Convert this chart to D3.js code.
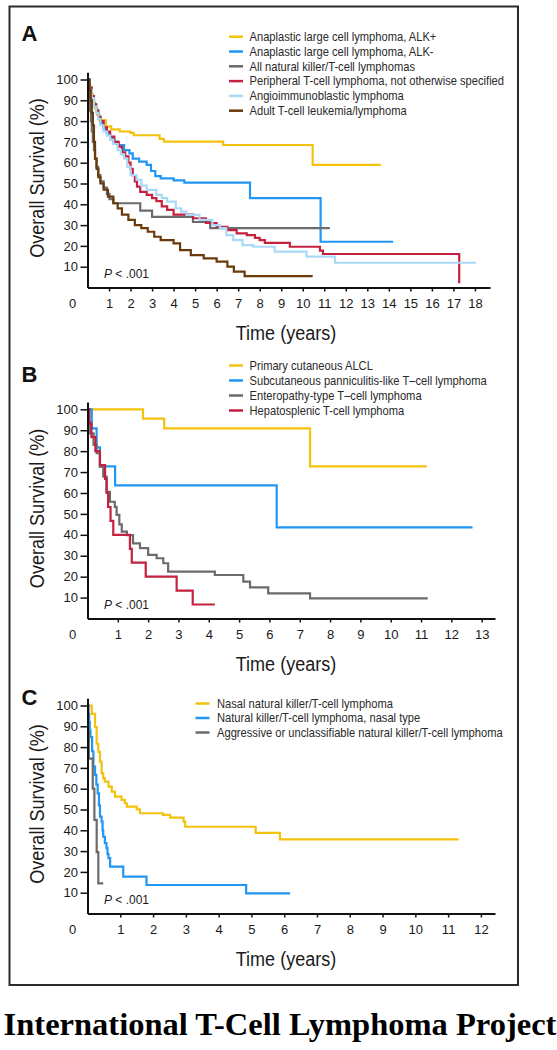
<!DOCTYPE html>
<html><head><meta charset="utf-8">
<script src="https://cdn.jsdelivr.net/npm/d3@7"></script>
<style>
body{margin:0;background:#fff;}
svg{display:block;}
</style></head><body>
<svg id="chart" width="557" height="1050"></svg>
<script>
// ---------------- DATA ----------------
// Panel A (time in years, overall survival %)
const alkPositive = [[0,100],[0.08,97],[0.16,93],[0.25,89],[0.35,86],[0.45,83],[0.55,80.5],[0.85,77.5],[1.1,76],[1.5,75],[2.0,74.3],[2.15,73.2],[3.35,71.5],[3.55,70.1],[6.3,68.5],[10.46,59],[13.63,59]];
const alkNegative = [[0,100],[0.1,96],[0.2,92],[0.3,88],[0.4,85],[0.5,82],[0.6,79],[0.75,76],[0.9,74],[1.05,72],[1.2,70],[1.4,68.5],[1.7,66],[1.95,64.5],[2.1,62],[2.4,60.5],[2.75,59],[2.95,56],[3.15,53.5],[3.4,52.5],[4.0,51.5],[4.5,50.4],[7.55,43],[10.83,22],[14.2,22]];
const allNkT = [[0,100],[0.04,95],[0.08,90],[0.12,85],[0.16,80],[0.2,75],[0.25,70],[0.3,66],[0.35,62],[0.42,58],[0.5,54],[0.6,51],[0.75,48],[0.9,45],[1.02,42.5],[1.2,40.5],[2.45,37],[3.0,34],[4.9,31.5],[5.7,28.5],[11.26,28.5]];
const ptclNos = [[0,100],[0.1,96],[0.2,92],[0.3,88],[0.4,85],[0.5,82],[0.6,80],[0.75,77],[0.9,75],[1.05,72.5],[1.25,70],[1.45,67.7],[1.6,65],[1.75,63],[1.9,60],[2.0,57],[2.1,54],[2.2,51],[2.3,48.5],[2.45,46],[2.75,44.5],[3.0,43],[3.2,41.5],[3.45,39],[3.7,37.3],[4.0,35],[4.9,33.3],[5.5,31],[6.0,29.2],[6.5,27.6],[6.93,26],[7.4,25.2],[7.78,23.9],[8.0,22.8],[8.24,21.5],[9.4,19.6],[10.8,17.7],[10.94,16.1],[17.27,2]];
const angioimmunoblastic = [[0,100],[0.1,95],[0.2,91],[0.3,87],[0.4,84],[0.5,81],[0.6,78],[0.75,75],[0.9,73],[1.05,71],[1.2,69],[1.4,66],[1.55,64],[1.7,62],[1.85,58],[2.0,54],[2.28,51.7],[2.5,49],[2.75,46.9],[3.2,44.5],[3.45,43],[3.7,41.3],[4.1,38.1],[4.35,36.5],[4.6,34.9],[5.2,32.5],[5.8,30],[6.15,28.5],[6.45,25.2],[6.77,22.8],[7.2,20.4],[7.7,19.6],[8.7,17.2],[10.18,14.8],[11.5,11.9],[18.05,11.9]];
const adultTcell = [[0,100],[0.1,95],[0.15,90],[0.2,84],[0.25,78],[0.3,70],[0.35,62],[0.42,57],[0.5,53],[0.6,50],[0.75,47],[0.95,43.7],[1.2,40.5],[1.4,38],[1.6,35],[1.9,32.5],[2.2,30],[2.5,28.5],[2.8,26.8],[3.1,24.4],[3.4,22.8],[4.0,21.2],[4.3,18],[4.8,15.6],[5.4,14],[6.0,12.4],[6.5,10],[6.8,7.6],[7.3,5.5],[10.46,5.5]];
const legendA = ["Anaplastic large cell lymphoma, ALK+","Anaplastic large cell lymphoma, ALK-","All natural killer/T-cell lymphomas","Peripheral T-cell lymphoma, not otherwise specified","Angioimmunoblastic lymphoma","Adult T-cell leukemia/lymphoma"];
const colorsA = ["#F4C20D","#2196F3","#6B6B6B","#C4213F","#A9D9F7","#6B3A0B"];

// Panel B
const primaryCutAlcl = [[0,100],[1.83,95.5],[2.53,90.9],[7.34,72.7],[11.19,72.7]];
const subcutPanniculitis = [[0,100],[0.14,90.9],[0.3,81.8],[0.41,72.7],[0.91,63.6],[6.24,43.6],[12.7,43.6]];
const enteropathy = [[0,100],[0.05,94],[0.09,88.5],[0.2,83],[0.3,79],[0.41,72.6],[0.52,67.8],[0.63,60.6],[0.74,55.8],[0.9,53.4],[0.96,49.5],[1.05,45],[1.13,41.5],[1.3,39.9],[1.5,35.9],[1.73,33.6],[2.0,30.4],[2.28,28.8],[2.5,26.4],[2.66,22.4],[4.2,20.8],[5.14,17.6],[5.36,14.9],[5.96,12],[7.34,9.6],[11.22,9.6]];
const hepatosplenic = [[0,100],[0.06,93.3],[0.13,86.7],[0.26,80],[0.41,73.3],[0.58,66.7],[0.63,60],[0.68,53.3],[0.76,46.7],[0.85,40],[1.4,33.3],[1.46,26.7],[1.92,20],[2.94,13.3],[3.47,6.7],[4.2,6.7]];
const legendB = ["Primary cutaneous ALCL","Subcutaneous panniculitis-like T\u2013cell lymphoma","Enteropathy-type T\u2013cell lymphoma","Hepatosplenic T-cell lymphoma"];
const colorsB = ["#F4C20D","#2196F3","#6B6B6B","#C4213F"];

// Panel C
const nasalNkT = [[0,100],[0.13,96],[0.23,89.6],[0.28,81.6],[0.33,77.7],[0.38,73],[0.43,67.4],[0.48,65],[0.53,63.4],[0.64,61],[0.74,58.6],[0.84,56.2],[1.04,54.6],[1.14,53],[1.2,51.4],[1.5,50.1],[1.6,48.2],[2.3,47.4],[2.52,46.1],[2.93,44.2],[2.98,41.7],[5.13,38.8],[5.87,35.6],[11.32,35.6]];
const nkTNasalType = [[0,100],[0.03,96],[0.05,92],[0.07,88],[0.09,84.8],[0.14,78],[0.18,70.6],[0.23,66.6],[0.27,62],[0.31,57.8],[0.35,52],[0.38,46.6],[0.43,44.2],[0.46,40],[0.48,36.9],[0.53,33.8],[0.58,31.4],[0.61,28.5],[0.64,26.6],[0.69,22.5],[1.09,17.7],[1.8,13.7],[4.84,9.7],[6.18,9.7]];
const aggressiveNk = [[0,100],[0.02,87],[0.04,74.5],[0.16,60],[0.21,45],[0.28,29.5],[0.33,14.5],[0.48,14.5]];
const legendC = ["Nasal natural killer/T-cell lymphoma","Natural killer/T-cell lymphoma, nasal type","Aggressive or unclassifiable natural killer/T-cell lymphoma"];
const colorsC = ["#F4C20D","#2196F3","#6B6B6B"];

// Ticks
const yTicks = [10,20,30,40,50,60,70,80,90,100];
const xTicksA = [1,2,3,4,5,6,7,8,9,10,11,12,13,14,15,16,17,18];
const xTicksB = [1,2,3,4,5,6,7,8,9,10,11,12,13];
const xTicksC = [1,2,3,4,5,6,7,8,9,10,11,12];

const yTitle = "Overall Survival (%)";
const xTitle = "Time (years)";
const pText = "< .001";
const mainTitle = "International T-Cell Lymphoma Project";

// ---------------- LAYOUT ----------------
const sans = "'Liberation Sans',Arial,sans-serif";

const panels = [
  {letter:"A", letterY:41, series:[alkPositive,alkNegative,allNkT,ptclNos,angioimmunoblastic,adultTcell],
   labels:legendA, colors:colorsA, xTicks:xTicksA, xMax:18.7, x0:87.5, x1:490,
   y100:79.5, y0:287.5, legX:229, legTextX:249.5, legY:36.7, legStep:14.8},
  {letter:"B", letterY:382, series:[primaryCutAlcl,subcutPanniculitis,enteropathy,hepatosplenic],
   labels:legendB, colors:colorsB, xTicks:xTicksB, xMax:13.44, x0:87.5, x1:495,
   y100:409.3, y0:618.5, legX:229, legTextX:249.5, legY:365.5, legStep:15},
  {letter:"C", letterY:705, series:[nasalNkT,nkTNasalType,aggressiveNk],
   labels:legendC, colors:colorsC, xTicks:xTicksC, xMax:12.43, x0:87.5, x1:495,
   y100:705.5, y0:913.5, legX:195.5, legTextX:217, legY:703.5, legStep:14.5}
];

const svg = d3.select("#chart");

// frame
svg.append("rect").attr("x",9.5).attr("y",6.5).attr("width",508.5).attr("height",978.5)
  .attr("fill","none").attr("stroke","#2b2b2b").attr("stroke-width",2);

panels.forEach(p => {
  const g = svg.append("g");
  const x = d3.scaleLinear().domain([0,p.xMax]).range([p.x0,p.x1]);
  const perUnit = (p.y0 - p.y100)/100;
  const y = d3.scaleLinear().domain([0,103.5]).range([p.y0, p.y0 - 103.5*perUnit]);

  const line = d3.line().x(d=>x(d[0])).y(d=>y(d[1])).curve(d3.curveStepAfter);
  p.series.forEach((s,i) => {
    g.append("path").datum(s).attr("d",line).attr("fill","none")
      .attr("stroke",p.colors[i]).attr("stroke-width",2.2);
  });

  const ya = d3.axisLeft(y).tickValues(yTicks).tickSize(7).tickSizeOuter(0).tickPadding(2.5);
  const yg = g.append("g").attr("transform",`translate(${p.x0},0)`).call(ya);
  const xa = d3.axisBottom(x).tickValues(p.xTicks).tickSize(4).tickSizeOuter(0).tickPadding(7.5);
  const xg = g.append("g").attr("transform",`translate(0,${p.y0})`).call(xa);
  [yg,xg].forEach(ax => {
    ax.select(".domain").attr("stroke","#111").attr("stroke-width",2);
    ax.selectAll(".tick line").attr("stroke","#111").attr("stroke-width",1.5);
    ax.selectAll(".tick text").attr("fill","#1a1a1a").style("font-family",sans).style("font-size","13px");
  });

  g.append("text").attr("x",p.x0-15).attr("y",p.y0+16).attr("dy","0.35em")
    .attr("text-anchor","middle").style("font-family",sans).style("font-size","13px")
    .attr("fill","#1a1a1a").text("0");

  const pt = g.append("text").attr("x",104).attr("y",p.y0-14).attr("dy","0.35em")
    .style("font-family",sans).style("font-size","12px").attr("fill","#1a1a1a");
  pt.append("tspan").style("font-style","italic").text("P");
  pt.append("tspan").text(" " + pText);

  // axis titles (horizontally condensed)
  g.append("text").attr("transform",`translate(286,${p.y0+52}) scale(0.86,1)`).attr("text-anchor","middle")
    .style("font-family",sans).style("font-size","21px").attr("fill","#1a1a1a").text(xTitle);
  const cy = (p.y0 + p.y100)/2 - 5.5;
  g.append("text").attr("transform",`translate(37,${cy}) rotate(-90) scale(0.86,1)`).attr("dy","0.35em")
    .attr("text-anchor","middle").style("font-family",sans).style("font-size","21px")
    .attr("fill","#1a1a1a").text(yTitle);

  g.append("text").attr("x",21.5).attr("y",p.letterY).style("font-family",sans)
    .style("font-weight","bold").style("font-size","22px").attr("fill","#111").text(p.letter);

  p.labels.forEach((lab,i) => {
    const ly = p.legY + i*p.legStep;
    g.append("line").attr("x1",p.legX).attr("x2",p.legX+14).attr("y1",ly).attr("y2",ly)
      .attr("stroke",p.colors[i]).attr("stroke-width",2.5);
    g.append("text").attr("transform",`translate(${p.legTextX},${ly}) scale(0.93,1)`).attr("dy","0.35em")
      .style("font-family",sans).style("font-size","12px").attr("fill","#2a2a2a").text(lab);
  });
});

svg.append("text").attr("x",280).attr("y",1035).attr("text-anchor","middle")
  .style("font-family","'Liberation Serif','Times New Roman',serif").style("font-weight","bold")
  .style("font-size","32.5px").attr("fill","#000").text(mainTitle);
</script>
</body></html>
